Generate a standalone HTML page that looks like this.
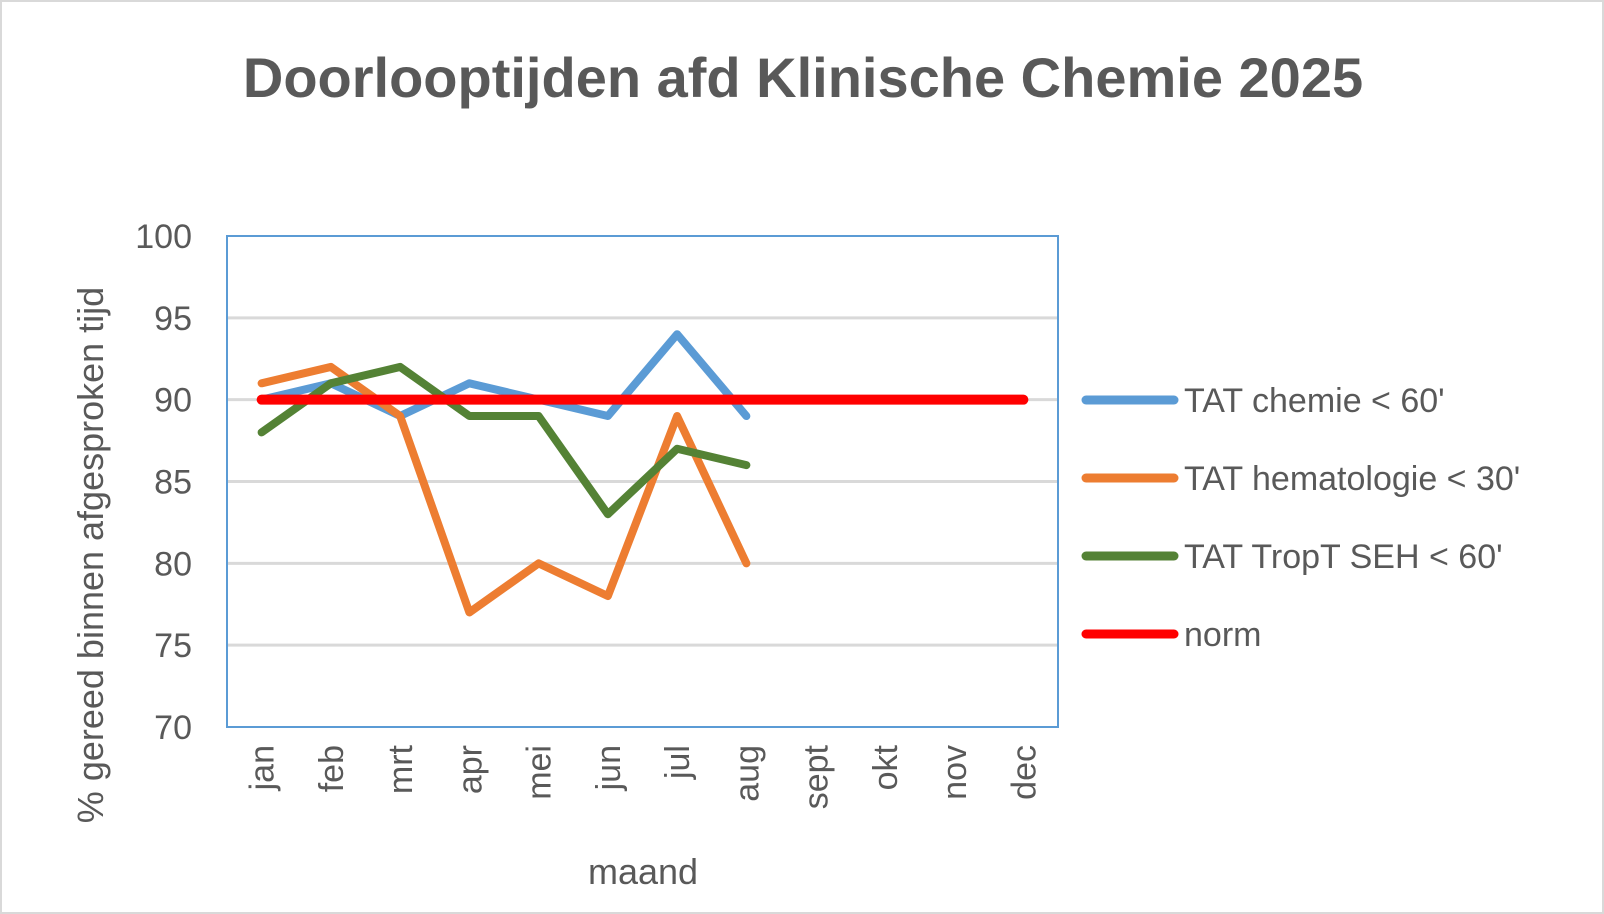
<!DOCTYPE html>
<html><head><meta charset="utf-8"><style>
body{margin:0;background:#fff}
svg{display:block;font-family:"Liberation Sans",Calibri,sans-serif}
</style></head><body>
<svg id="c" width="1604" height="914">
<rect x="1" y="1" width="1602" height="912" fill="#fff" stroke="#d9d9d9" stroke-width="2"/>
<text x="803" y="97" text-anchor="middle" font-size="56" font-weight="bold" fill="#595959">Doorlooptijden afd Klinische Chemie 2025</text>
<g id="grid"></g><g id="series"></g><g id="axes"></g><g id="legend"></g>
<text transform="translate(103,555) rotate(-90)" text-anchor="middle" font-size="36" fill="#595959">% gereed binnen afgesproken tijd</text>
<text x="643" y="884" text-anchor="middle" font-size="36" fill="#595959">maand</text>
</svg>
<script>
const months=["jan","feb","mrt","apr","mei","jun","jul","aug","sept","okt","nov","dec"];
const yTicks=[70,75,80,85,90,95,100];
const chemie=[90,91,89,91,90,89,94,89];
const hemato=[91,92,89,77,80,78,89,80];
const tropt=[88,91,92,89,89,83,87,86];
const norm=[90,90,90,90,90,90,90,90,90,90,90,90];
const names=["TAT chemie < 60'","TAT hematologie < 30'","TAT TropT SEH < 60'","norm"];
const keys=["chemie","hematologie","tropt","norm"];
const NS="http://www.w3.org/2000/svg";
const L=227,R=1058,T=236,B=727;
const x=i=>L+(R-L)/months.length*(i+0.5);
const y=v=>B-(v-70)/30*(B-T);
function mk(tag,attrs,parent){const e=document.createElementNS(NS,tag);for(const k in attrs)e.setAttribute(k,attrs[k]);parent.appendChild(e);return e;}
const grid=document.getElementById('grid'),axes=document.getElementById('axes'),ser=document.getElementById('series'),leg=document.getElementById('legend');
yTicks.forEach(v=>{
 if(v>70&&v<100){const g=mk('line',{x1:L,x2:R,y1:y(v),y2:y(v),stroke:'#d9d9d9','stroke-width':3},grid);
 
 }
 const t=mk('text',{x:192,y:y(v)+12,'text-anchor':'end','font-size':34,fill:'#595959'},axes);t.textContent=v;
 
 
});
const frame=mk('rect',{x:L,y:T,width:R-L,height:B-T,fill:'none',stroke:'#5b9bd5','stroke-width':2},axes);


months.forEach((m,i)=>{
 const t=mk('text',{transform:`translate(${x(i)+12},${745}) rotate(-90)`,'text-anchor':'end','font-size':34,fill:'#595959'},axes);t.textContent=m;
 
 
});
const data=[chemie,hemato,tropt,norm],cols=['#5b9bd5','#ed7d31','#548235','#ff0000'],ws=[8,8,8,10];
[0,1,2,3].forEach(s=>{
 const p=mk('polyline',{points:data[s].map((v,i)=>x(i)+','+y(v)).join(' '),fill:'none',stroke:cols[s],'stroke-width':ws[s],'stroke-linejoin':'round','stroke-linecap':'round'},ser);
 
 
});
names.forEach((n,i)=>{
 const yy=400+i*78;
 const g=mk('g',{},leg);
 
 
 mk('line',{x1:1086,x2:1174,y1:yy,y2:yy,stroke:cols[i],'stroke-width':9,'stroke-linecap':'round'},g);
 const t=mk('text',{x:1184,y:yy+12,'font-size':34,fill:'#595959'},g);t.textContent=n;
});
</script>
</body></html>
